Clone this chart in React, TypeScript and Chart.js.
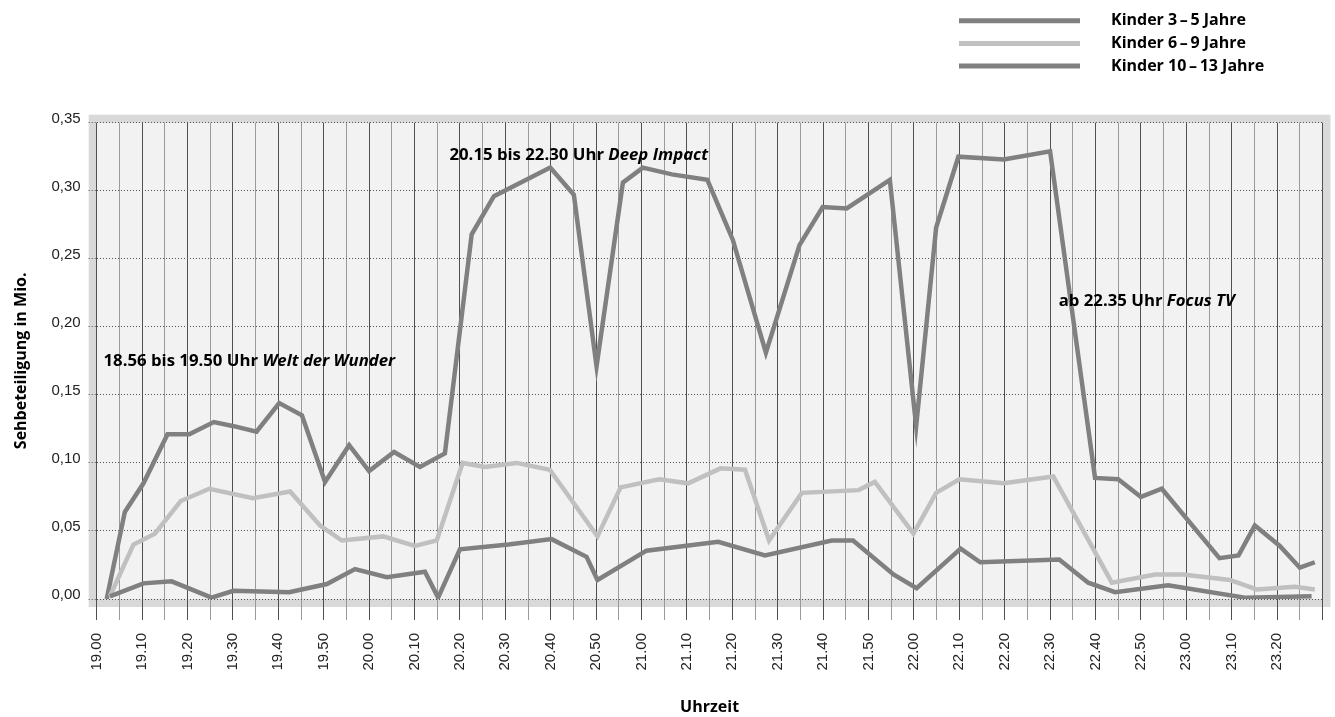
import React, { useEffect, useRef } from 'react';
import { Chart, registerables } from 'chart.js';

Chart.register(...registerables);

// Zeitachse: Minuten nach 19.00 Uhr
const timeLabels = [
  '19.00', '19.10', '19.20', '19.30', '19.40', '19.50',
  '20.00', '20.10', '20.20', '20.30', '20.40', '20.50',
  '21.00', '21.10', '21.20', '21.30', '21.40', '21.50',
  '22.00', '22.10', '22.20', '22.30', '22.40', '22.50',
  '23.00', '23.10', '23.20',
];

const seriesNames = [
  'Kinder 3\u2009\u2013\u20095 Jahre',
  'Kinder 6\u2009\u2013\u20099 Jahre',
  'Kinder 10\u2009\u2013\u200913 Jahre',
];

const kids3to5Minutes = [
  2.9, 10.3, 16.5, 25.3, 30.1, 42.4, 50.7, 56.9, 63.9, 72.3, 75.2, 80.0, 90.7,
  100.2, 107.9, 110.3, 121.1, 136.9, 147.2, 161.9, 166.6, 175.5, 180.6, 190.3,
  194.6, 212.0, 218.4, 224.3, 236.0, 252.9, 267.6,
];
const kids3to5Values = [
  0.002, 0.0115, 0.013, 0.001, 0.006, 0.005, 0.011, 0.022, 0.016, 0.020, 0.001, 0.0365, 0.040,
  0.044, 0.031, 0.014, 0.0355, 0.042, 0.032, 0.043, 0.043, 0.018, 0.008, 0.037,
  0.027, 0.029, 0.012, 0.005, 0.010, 0.001, 0.002,
];

const kids6to9Minutes = [
  2.9, 8.1, 12.8, 18.5, 24.8, 34.4, 42.6, 49.2, 54.0, 63.1, 70.1, 74.9, 80.6, 85.5,
  92.5, 99.8, 110.3, 115.4, 123.9, 130.3, 137.4, 142.8, 148.1, 155.3, 167.8, 171.4,
  179.9, 184.9, 190.0, 199.8, 210.7, 223.6, 233.1, 239.3, 249.6, 255.5, 263.9, 268.3,
];
const kids6to9Values = [
  0.002, 0.040, 0.048, 0.072, 0.081, 0.074, 0.079, 0.054, 0.043, 0.046, 0.039, 0.043, 0.100, 0.097,
  0.100, 0.095, 0.046, 0.082, 0.088, 0.085, 0.096, 0.095, 0.043, 0.078, 0.080, 0.086,
  0.048, 0.078, 0.088, 0.085, 0.090, 0.012, 0.018, 0.018, 0.014, 0.007, 0.009, 0.007,
];

const kids10to13Minutes = [
  2.2, 6.2, 10.3, 15.6, 20.4, 25.8, 30.2, 35.2, 40.2, 45.2, 50.3, 55.6, 60.0, 65.5,
  71.2, 76.7, 82.6, 87.5, 99.9, 105.1, 110.1, 115.9, 120.3, 126.7, 134.5, 140.1,
  147.4, 154.8, 159.9, 165.2, 174.7, 180.5, 184.9, 189.8, 199.8, 210.0, 219.9,
  225.0, 230.0, 234.6, 247.3, 251.5, 255.1, 260.6, 265.0, 268.3,
];
const kids10to13Values = [
  0.000, 0.064, 0.085, 0.121, 0.121, 0.130, 0.127, 0.123, 0.144, 0.135, 0.086, 0.113, 0.094, 0.108,
  0.097, 0.107, 0.268, 0.296, 0.317, 0.297, 0.171, 0.306, 0.317, 0.312, 0.308, 0.264,
  0.181, 0.260, 0.288, 0.287, 0.308, 0.127, 0.273, 0.325, 0.323, 0.329, 0.089,
  0.088, 0.075, 0.081, 0.030, 0.032, 0.054, 0.039, 0.023, 0.027,
];

// Beschriftungen im Diagramm (Minute, Wert)
const annotationMinutes = [1.5, 77.7, 211.9];
const annotationValues = [0.175, 0.326, 0.219];
const annotationPlain = ['18.56 bis 19.50 Uhr ', '20.15 bis 22.30 Uhr ', 'ab 22.35 Uhr '];
const annotationItalic = ['Welt der Wunder', 'Deep Impact', 'Focus TV'];

const DARK = '#808080';
const LIGHT = '#c0c0c0';
const TITLE_FONT = '"Open Sans"';

const toPoints = (xs: number[], ys: number[]) => xs.map((x, i) => ({ x, y: ys[i] }));

const framePlugin = {
  id: 'frame',
  beforeDraw(chart: any) {
    const { ctx, chartArea: a } = chart;
    ctx.save();
    ctx.fillStyle = '#d9d9d9';
    ctx.fillRect(a.left - 8, a.top - 8, a.right - a.left + 16, a.bottom - a.top + 16);
    ctx.fillStyle = '#f2f2f2';
    ctx.fillRect(a.left, a.top, a.right - a.left, a.bottom - a.top);
    ctx.restore();
  },
};

const annotationPlugin = {
  id: 'annotations',
  afterDatasetsDraw(chart: any) {
    const { ctx, scales } = chart;
    ctx.save();
    ctx.fillStyle = '#000';
    ctx.textBaseline = 'middle';
    ctx.textAlign = 'left';
    annotationMinutes.forEach((m, i) => {
      const x = scales.x.getPixelForValue(m);
      const y = scales.y.getPixelForValue(annotationValues[i]);
      ctx.font = `bold 16.75px ${TITLE_FONT}`;
      ctx.fillText(annotationPlain[i], x, y);
      const w = ctx.measureText(annotationPlain[i]).width;
      ctx.font = `italic bold 16.75px ${TITLE_FONT}`;
      ctx.fillText(annotationItalic[i], x + w, y);
    });
    ctx.restore();
  },
};

const legendPlugin = {
  id: 'customLegend',
  afterDraw(chart: any) {
    const { ctx } = chart;
    ctx.save();
    chart.data.datasets.forEach((ds: any, i: number) => {
      const y = 20.7 + i * 22.7;
      ctx.strokeStyle = ds.borderColor;
      ctx.lineWidth = 5;
      ctx.beginPath();
      ctx.moveTo(959, y);
      ctx.lineTo(1080, y);
      ctx.stroke();
      ctx.fillStyle = '#000';
      ctx.font = `bold 16px ${TITLE_FONT}`;
      ctx.textBaseline = 'middle';
      ctx.textAlign = 'left';
      ctx.fillText(ds.label, 1111, y);
    });
    ctx.restore();
  },
};

export default function App() {
  const canvasRef = useRef<HTMLCanvasElement | null>(null);

  useEffect(() => {
    if (!canvasRef.current) return;
    const chart = new Chart(canvasRef.current, {
      type: 'line',
      data: {
        datasets: [
          { label: seriesNames[0], data: toPoints(kids3to5Minutes, kids3to5Values), borderColor: DARK },
          { label: seriesNames[1], data: toPoints(kids6to9Minutes, kids6to9Values), borderColor: LIGHT },
          { label: seriesNames[2], data: toPoints(kids10to13Minutes, kids10to13Values), borderColor: DARK },
        ].map((d) => ({
          ...d,
          borderWidth: 4.5,
          pointRadius: 0,
          pointHoverRadius: 0,
          tension: 0,
          fill: false,
          borderJoinStyle: 'miter' as const,
        })),
      },
      options: {
        animation: false,
        responsive: true,
        maintainAspectRatio: false,
        layout: { padding: { top: 122.7, right: 12.5, left: 0, bottom: 0 } },
        plugins: {
          legend: { display: false },
          tooltip: { enabled: false },
        },
        scales: {
          x: {
            type: 'linear',
            min: 0,
            max: 270,
            afterFit: (s: any) => {
              s.height = 118;
              s.paddingLeft = 0;
              s.paddingRight = 0;
            },
            ticks: {
              stepSize: 5,
              autoSkip: false,
              maxRotation: 90,
              minRotation: 90,
              padding: 13,
              color: '#222',
              font: { family: 'Liberation Sans', size: 15 },
              callback: (v: any) => {
                const n = Math.round(Number(v));
                return n % 10 === 0 && timeLabels[n / 10] ? timeLabels[n / 10] : '';
              },
            },
            grid: {
              color: (c: any) => (c.tick && Math.round(c.tick.value) % 10 === 0 ? '#505050' : '#9a9a9a'),
              lineWidth: 1,
              tickLength: 21,
            },
            border: { display: false },
            title: {
              display: true,
              text: 'Uhrzeit',
              color: '#000',
              font: { family: 'Open Sans', size: 16, weight: 'bold' },
              padding: { top: 0, bottom: 0 },
            },
          },
          y: {
            min: 0,
            max: 0.35,
            afterFit: (s: any) => {
              s.width = 96.7;
              s.paddingTop = 0;
              s.paddingBottom = 0;
            },
            ticks: {
              stepSize: 0.05,
              padding: 8,
              labelOffset: -4,
              color: '#222',
              font: { family: 'Liberation Sans', size: 15 },
              callback: (v: any) => Number(v).toFixed(2).replace('.', ','),
            },
            grid: {
              color: '#555',
              lineWidth: 1,
              tickLength: 8,
              tickBorderDash: [1, 2],
            },
            border: { display: false, dash: [1, 2] },
            title: {
              display: true,
              text: 'Sehbeteiligung in Mio.',
              color: '#000',
              font: { family: 'Open Sans', size: 16, weight: 'bold' },
              padding: { top: 12, bottom: 0 },
            },
          },
        },
      },
      plugins: [framePlugin, annotationPlugin, legendPlugin],
    } as any);
    return () => chart.destroy();
  }, []);

  return (
    <div style={{ position: 'absolute', left: 0, top: 0, width: 1335, height: 717, background: '#fff' }}>
      <canvas ref={canvasRef} />
    </div>
  );
}
